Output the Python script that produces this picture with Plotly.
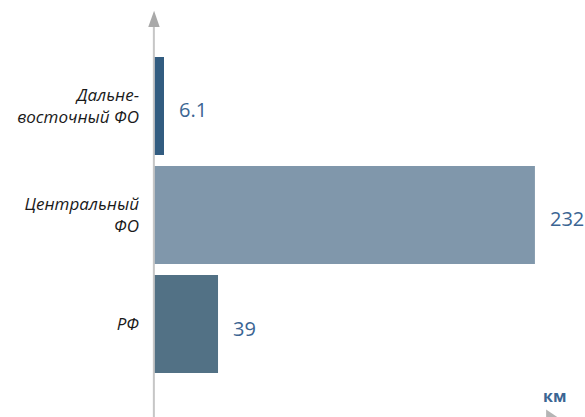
import plotly.graph_objects as go

categories = ["Дальне-<br>восточный ФО", "Центральный<br>ФО", "РФ"]
values = [6.1, 232, 39]
value_labels = ["6.1", "232", "39"]
bar_colors = ["#325c80", "#8097ab", "#527185"]
unit_label = "км"

positions = [2, 1, 0]

fig = go.Figure()
fig.add_trace(go.Bar(
    x=values, y=positions, orientation="h",
    marker=dict(color=bar_colors, line=dict(width=0)),
    width=0.9, hoverinfo="skip",
))

for v, p, t in zip(values, positions, value_labels):
    fig.add_annotation(x=v, y=p, text=t, showarrow=False, xanchor="left",
                       yanchor="middle", xshift=13, yshift=-4,
                       font=dict(family="Open Sans", size=20, color="#3b6593"))

# vertical axis line with arrow
fig.add_shape(type="line", xref="paper", yref="paper", x0=0.002, x1=0.002,
              y0=0, y1=0.95, line=dict(color="#c6c6c6", width=2))
fig.add_shape(type="path", xref="paper", yref="paper",
              path="M -0.011 0.935 L 0.0025 0.974 L 0.0155 0.935 Z",
              fillcolor="#a9a9a9", line=dict(width=0))
# horizontal arrowhead at bottom right (mostly cut off)
fig.add_shape(type="path", xref="paper", yref="paper",
              path="M 0.910 0.018 L 0.940 -0.003 L 0.910 -0.024 Z",
              fillcolor="#b5b5b5", line=dict(width=0))

fig.add_annotation(xref="paper", yref="paper", x=0.929, y=0.018, text="<b>" + unit_label + "</b>",
                   showarrow=False, xanchor="center", yanchor="bottom",
                   font=dict(family="Open Sans", size=16, color="#3b6593"))

fig.update_layout(
    width=585, height=417,
    margin=dict(l=153, r=0, t=0, b=0),
    paper_bgcolor="white", plot_bgcolor="white",
    showlegend=False,
    xaxis=dict(range=[-0.6, 262.5], showgrid=False, zeroline=False, showline=False,
               showticklabels=False, ticks=""),
    yaxis=dict(range=[-0.853, 2.972], tickvals=positions, ticktext=categories,
               showgrid=False, zeroline=False, showline=False, ticks="",
               ticklabelstandoff=13,
               tickfont=dict(family="Open Sans", size=17, color="#1a1a1a", style="italic")),
)

fig.write_html("out.html", config={"displayModeBar": False},
               post_script="document.body.style.margin='0';document.body.style.padding='0';document.body.style.overflow='hidden';")
